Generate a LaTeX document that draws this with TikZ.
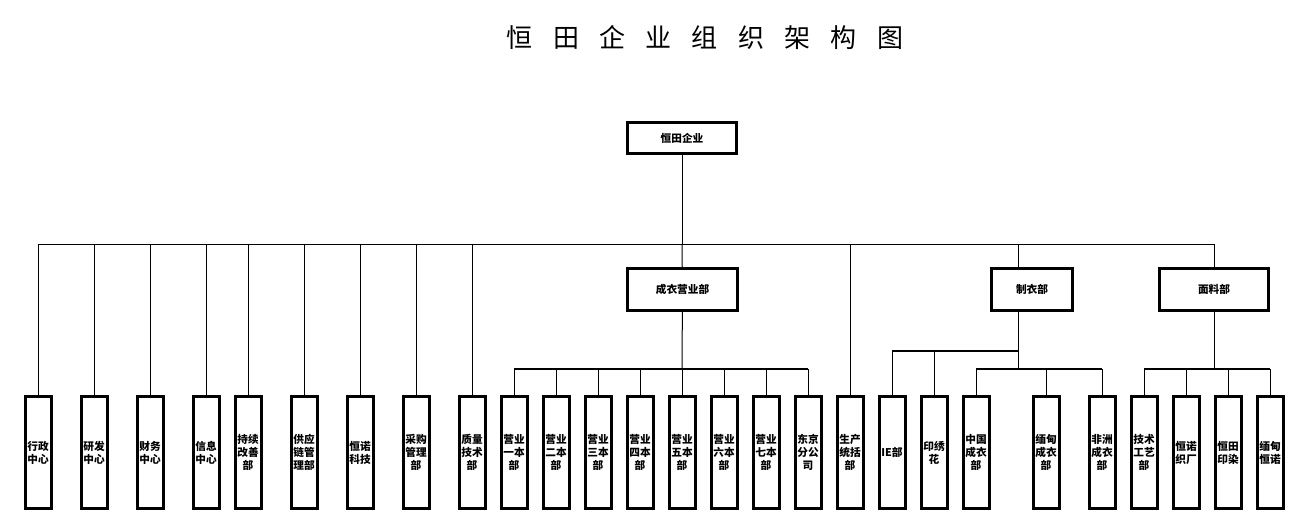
\documentclass[tikz,border=0pt]{standalone}
\usepackage{fontspec}
\setmainfont{Noto Sans CJK SC}
\newcommand\tgap{\hspace{15.2pt}}
\begin{document}
\begin{tikzpicture}[x=0.75pt,y=-0.75pt,inner sep=0pt,outer sep=0pt,
font=\bfseries\fontsize{8}{9.75}\selectfont,
topbox/.style={draw,rectangle,line width=2.25pt,minimum height=23pt},
unitbox/.style={draw,rectangle,line width=2.25pt,minimum width=19.5pt,minimum height=84pt,align=center},
link/.style={line width=0.75pt},
bar/.style={line width=1.6pt}]
\useasboundingbox (0,0) rectangle (1297,524);
% title
\draw (705,38) node (title) {\mdseries\fontsize{19.5}{22}\selectfont 恒\tgap 田\tgap 企\tgap 业\tgap 组\tgap 织\tgap 架\tgap 构\tgap 图};
% company and main departments
\draw (682,138) node[topbox,minimum width=82pt] (ent) {恒田企业};
\draw (682.5,289.5) node[topbox,minimum width=82pt,minimum height=31.5pt] (cyyy) {成衣营业部};
\draw (1032,289.5) node[topbox,minimum width=61pt,minimum height=31.5pt] (zy) {制衣部};
\draw (1214,289.5) node[topbox,minimum width=82pt,minimum height=31.5pt] (ml) {面料部};
% units
\draw (38,452.5) node[unitbox] (xz) {行政\\中心};
\draw (94,452.5) node[unitbox] (yf) {研发\\中心};
\draw (150,452.5) node[unitbox] (cw) {财务\\中心};
\draw (206,452.5) node[unitbox] (xx) {信息\\中心};
\draw (248,452.5) node[unitbox] (cx) {持续\\改善\\部};
\draw (304,452.5) node[unitbox] (gyl) {供应\\链管\\理部};
\draw (360,452.5) node[unitbox] (hnkj) {恒诺\\科技};
\draw (416,452.5) node[unitbox] (cg) {采购\\管理\\部};
\draw (472,452.5) node[unitbox] (zl) {质量\\技术\\部};
\draw (514,452.5) node[unitbox] (yy1) {营业\\一本\\部};
\draw (556,452.5) node[unitbox] (yy2) {营业\\二本\\部};
\draw (598,452.5) node[unitbox] (yy3) {营业\\三本\\部};
\draw (640,452.5) node[unitbox] (yy4) {营业\\四本\\部};
\draw (682,452.5) node[unitbox] (yy5) {营业\\五本\\部};
\draw (724,452.5) node[unitbox] (yy6) {营业\\六本\\部};
\draw (766,452.5) node[unitbox] (yy7) {营业\\七本\\部};
\draw (808,452.5) node[unitbox] (dj) {东京\\分公\\司};
\draw (850,452.5) node[unitbox] (sc) {生产\\统括\\部};
\draw (892,452.5) node[unitbox] (ie) {IE部};
\draw (934,452.5) node[unitbox] (yxh) {印绣\\花};
\draw (976,452.5) node[unitbox] (zg) {中国\\成衣\\部};
\draw (1046,452.5) node[unitbox] (md) {缅甸\\成衣\\部};
\draw (1102,452.5) node[unitbox] (fz) {非洲\\成衣\\部};
\draw (1144,452.5) node[unitbox] (js) {技术\\工艺\\部};
\draw (1186,452.5) node[unitbox] (hnzc) {恒诺\\织厂};
\draw (1228,452.5) node[unitbox] (htyr) {恒田\\印染};
\draw (1270,452.5) node[unitbox] (mdhn) {缅甸\\恒诺};
% top level links
\coordinate (bus) at (682,245);
\coordinate (zyin) at (1018,267);
\coordinate (zyout) at (1018,312);
\draw[link] (ent) -- (bus);
\draw[link] (bus) -| (xz);
\draw[link] (bus) -| (yf);
\draw[link] (bus) -| (cw);
\draw[link] (bus) -| (xx);
\draw[link] (bus) -| (cx);
\draw[link] (bus) -| (gyl);
\draw[link] (bus) -| (hnkj);
\draw[link] (bus) -| (cg);
\draw[link] (bus) -| (zl);
\draw[link] (bus) -- (cyyy);
\draw[link] (bus) -| (sc);
\draw[link] (bus) -| (zyin);
\draw[link] (bus) -| (ml);
% 成衣营业部
\coordinate (cybus) at (682,369);
\draw[link] (cyyy) -- (cybus);
\draw[link] (cybus) -| (yy1);
\draw[link] (cybus) -| (yy2);
\draw[link] (cybus) -| (yy3);
\draw[link] (cybus) -| (yy4);
\draw[link] (cybus) -- (yy5);
\draw[link] (cybus) -| (yy6);
\draw[link] (cybus) -| (yy7);
\draw[link] (cybus) -| (dj);
\draw[bar] (cybus -| yy1) -- (cybus -| dj);
% 制衣部
\coordinate (zyup) at (1018,351);
\coordinate (zybus) at (1018,369);
\draw[link] (zyout) -- (zybus);
\draw[link] (zyup) -| (ie);
\draw[link] (zyup) -| (yxh);
\draw[link] (zybus) -| (zg);
\draw[link] (zybus) -| (md);
\draw[link] (zybus) -| (fz);
\draw[bar] (zyup) -- (zyup -| ie);
\draw[bar] (zybus -| zg) -- (zybus -| fz);
% 面料部
\coordinate (mlbus) at (1214,369);
\draw[link] (ml) -- (mlbus);
\draw[link] (mlbus) -| (js);
\draw[link] (mlbus) -| (hnzc);
\draw[link] (mlbus) -| (htyr);
\draw[link] (mlbus) -| (mdhn);
\draw[bar] (mlbus -| js) -- (mlbus -| mdhn);
\end{tikzpicture}
\end{document}
